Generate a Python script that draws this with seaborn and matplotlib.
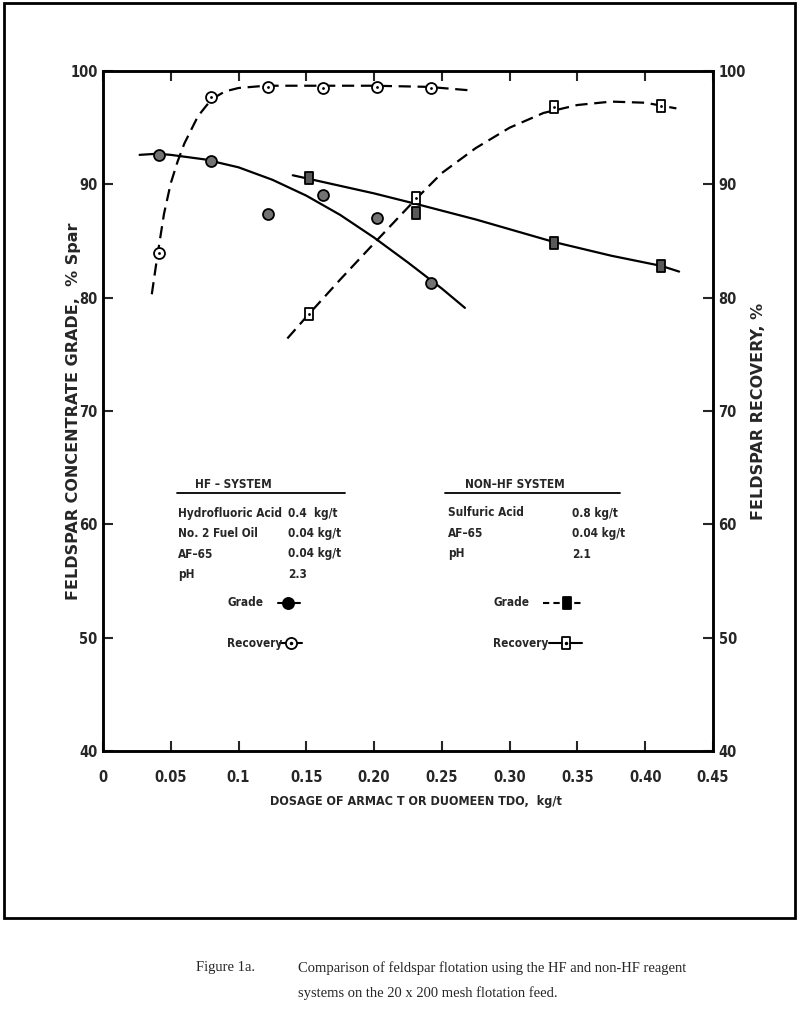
import matplotlib
matplotlib.use('Agg')
import matplotlib.pyplot as plt
from matplotlib.lines import Line2D
from matplotlib.patches import Rectangle
from matplotlib.path import Path
import seaborn as sns

# measured points (dosage kg/t, percent)
hf_dose = [0.041, 0.080, 0.122, 0.162, 0.202, 0.242]
hf_grade = [92.6, 92.1, 87.4, 89.1, 87.0, 81.3]
hf_recovery = [83.9, 97.7, 98.6, 98.5, 98.6, 98.5]

nonhf_dose = [0.152, 0.231, 0.333, 0.412]
nonhf_grade = [90.6, 87.5, 84.8, 82.8]
nonhf_recovery = [78.6, 88.8, 96.8, 96.9]

# hand drawn fitted curves
hf_grade_curve_x = [0.027, 0.04, 0.05, 0.075, 0.10, 0.125, 0.15, 0.175, 0.20, 0.225, 0.25, 0.267]
hf_grade_curve_y = [92.6, 92.7, 92.6, 92.2, 91.5, 90.4, 89.0, 87.3, 85.3, 83.1, 80.8, 79.1]

hf_rec_curve_x = [0.036, 0.040, 0.045, 0.050, 0.055, 0.060, 0.070, 0.080, 0.090, 0.100, 0.120, 0.150, 0.200, 0.240, 0.270]
hf_rec_curve_y = [80.3, 83.6, 87.4, 90.1, 92.0, 93.6, 96.0, 97.5, 98.2, 98.5, 98.7, 98.7, 98.7, 98.6, 98.3]

nonhf_grade_curve_x = [0.14, 0.20, 0.23, 0.275, 0.333, 0.375, 0.412, 0.425]
nonhf_grade_curve_y = [90.8, 89.2, 88.3, 86.9, 84.9, 83.7, 82.8, 82.3]

nonhf_rec_curve_x = [0.136, 0.15, 0.175, 0.20, 0.23, 0.25, 0.275, 0.30, 0.325, 0.35, 0.375, 0.40, 0.423]
nonhf_rec_curve_y = [76.4, 78.3, 81.6, 84.8, 88.6, 91.0, 93.2, 95.0, 96.3, 97.0, 97.3, 97.2, 96.7]

xticks = [0, 0.05, 0.1, 0.15, 0.20, 0.25, 0.30, 0.35, 0.40, 0.45]
xtick_labels = ['0', '0.05', '0.1', '0.15', '0.20', '0.25', '0.30', '0.35', '0.40', '0.45']
yticks = [40, 50, 60, 70, 80, 90, 100]

sns.set_style('ticks')
plt.rcParams['font.family'] = ['DejaVu Sans']
plt.rcParams['font.stretch'] = 'condensed'

W, H = 800, 1010
def fx(px):
    return px / W
def fy(py):
    return 1 - py / H

fig = plt.figure(figsize=(8, 10.1), dpi=100)
ax = fig.add_axes([fx(103), fy(751), fx(713) - fx(103), fy(71) - fy(751)])

dash = (0, (5.5, 3))
sns.lineplot(x=hf_grade_curve_x, y=hf_grade_curve_y, ax=ax, color='black', lw=1.6)
sns.lineplot(x=hf_rec_curve_x, y=hf_rec_curve_y, ax=ax, color='black', lw=1.6, linestyle=dash)
sns.lineplot(x=nonhf_grade_curve_x, y=nonhf_grade_curve_y, ax=ax, color='black', lw=1.6)
sns.lineplot(x=nonhf_rec_curve_x, y=nonhf_rec_curve_y, ax=ax, color='black', lw=1.6, linestyle=dash)

rect = Path([(-0.65, -1), (0.65, -1), (0.65, 1), (-0.65, 1), (-0.65, -1)],
            [Path.MOVETO, Path.LINETO, Path.LINETO, Path.LINETO, Path.CLOSEPOLY])

sns.scatterplot(x=hf_dose, y=hf_grade, ax=ax, marker='o', s=62, color='0.45',
                edgecolor='black', linewidth=1.3, zorder=4)
sns.scatterplot(x=hf_dose, y=hf_recovery, ax=ax, marker='o', s=62, color='white',
                edgecolor='black', linewidth=1.3, zorder=4)
sns.scatterplot(x=hf_dose, y=hf_recovery, ax=ax, marker='o', s=4, color='black',
                linewidth=0, zorder=5)
sns.scatterplot(x=nonhf_dose, y=nonhf_grade, ax=ax, marker=rect, s=85, color='0.35',
                edgecolor='black', linewidth=1.3, zorder=4)
sns.scatterplot(x=nonhf_dose, y=nonhf_recovery, ax=ax, marker=rect, s=85, color='white',
                edgecolor='black', linewidth=1.3, zorder=4)
sns.scatterplot(x=nonhf_dose, y=nonhf_recovery, ax=ax, marker='o', s=4, color='black',
                linewidth=0, zorder=5)

ax.set_xlim(0, 0.45)
ax.set_ylim(40, 100)
ax.set_xticks(xticks)
ax.set_xticklabels(xtick_labels)
ax.set_yticks(yticks)
ax.tick_params(direction='in', length=7, width=1.5, labelsize=10.5, top=True)
ax.tick_params(axis='x', pad=14)
ax.tick_params(axis='y', pad=4)
for lab in ax.get_xticklabels() + ax.get_yticklabels():
    lab.set_fontweight('bold')

ax2 = ax.twinx()
ax2.set_ylim(40, 100)
ax2.set_yticks(yticks)
ax2.tick_params(direction='in', length=7, width=1.5, labelsize=10.5, pad=4)
for lab in ax2.get_yticklabels():
    lab.set_fontweight('bold')

for a in (ax, ax2):
    for sp in a.spines.values():
        sp.set_linewidth(1.8)
        sp.set_color('black')

ax.set_xlabel('DOSAGE OF ARMAC T OR DUOMEEN TDO,  kg/t', fontsize=9, fontweight='bold')
ax.xaxis.set_label_coords(0.513, -0.064)
ax.set_ylabel('FELDSPAR CONCENTRATE GRADE,  % Spar', fontsize=11.5, fontweight='bold',
              fontstretch='normal')
ax.yaxis.set_label_coords(-0.036, 0.5)
ax2.set_ylabel('FELDSPAR RECOVERY, %', fontsize=11.5, fontweight='bold', fontstretch='normal')
ax2.yaxis.set_label_coords(1.062, 0.5)

# reagent legend boxes
tk = dict(fontsize=8.5, fontweight='bold', va='center')
fig.text(fx(195), fy(485), 'HF \u2013 SYSTEM', **tk)
fig.add_artist(Line2D([fx(177), fx(345)], [fy(493)] * 2, transform=fig.transFigure, color='black', lw=1.3))
hf_rows = [('Hydrofluoric Acid', '0.4  kg/t'), ('No. 2 Fuel Oil', '0.04 kg/t'),
           ('AF\u201365', '0.04 kg/t'), ('pH', '2.3')]
for i, (name, val) in enumerate(hf_rows):
    fig.text(fx(178), fy(513 + 20.5 * i), name, **tk)
    fig.text(fx(288), fy(513 + 20.5 * i), val, **tk)

fig.text(fx(465), fy(485), 'NON\u2013HF SYSTEM', **tk)
fig.add_artist(Line2D([fx(445), fx(620)], [fy(493)] * 2, transform=fig.transFigure, color='black', lw=1.3))
nonhf_rows = [('Sulfuric Acid', '0.8 kg/t'), ('AF\u201365', '0.04 kg/t'), ('pH', '2.1')]
for i, (name, val) in enumerate(nonhf_rows):
    fig.text(fx(448), fy(513 + 20.5 * i), name, **tk)
    fig.text(fx(572), fy(513 + 20.5 * i), val, **tk)

fig.text(fx(227), fy(603), 'Grade', **tk)
fig.text(fx(227), fy(643), 'Recovery', **tk)
fig.text(fx(493), fy(603), 'Grade', **tk)
fig.text(fx(493), fy(643), 'Recovery', **tk)

def key(x0, x1, xm, y, style, marker, face):
    fig.add_artist(Line2D([fx(x0), fx(x1)], [fy(y)] * 2, transform=fig.transFigure,
                          color='black', lw=1.5, linestyle=style))
    fig.add_artist(Line2D([fx(xm)], [fy(y)], transform=fig.transFigure, marker=marker,
                          markersize=8, markerfacecolor=face, markeredgecolor='black',
                          markeredgewidth=1.3, linestyle='none'))
    if face == 'white':
        fig.add_artist(Line2D([fx(xm)], [fy(y)], transform=fig.transFigure, marker='o',
                              markersize=1.5, color='black', linestyle='none'))

key(278, 300, 288, 603, '-', 'o', 'black')
key(280, 302, 291, 643, '-', 'o', 'white')
key(543, 582, 567, 603, (0, (3, 2)), rect, 'black')
key(549, 582, 566, 643, '-', rect, 'white')

# outer frame
fig.add_artist(Rectangle((fx(4), fy(918)), fx(795) - fx(4), fy(3) - fy(918),
                         transform=fig.transFigure, fill=False, lw=2, edgecolor='black'))

cap = dict(fontsize=10.5, family=['Liberation Serif', 'DejaVu Serif'], fontstretch='normal', va='center')
fig.text(fx(196), fy(968), 'Figure 1a.', **cap)
fig.text(fx(298), fy(968), 'Comparison of feldspar flotation using the HF and non-HF reagent', **cap)
fig.text(fx(298), fy(993), 'systems on the 20 x 200 mesh flotation feed.', **cap)

fig.savefig('out.png', dpi=100, facecolor='white')
